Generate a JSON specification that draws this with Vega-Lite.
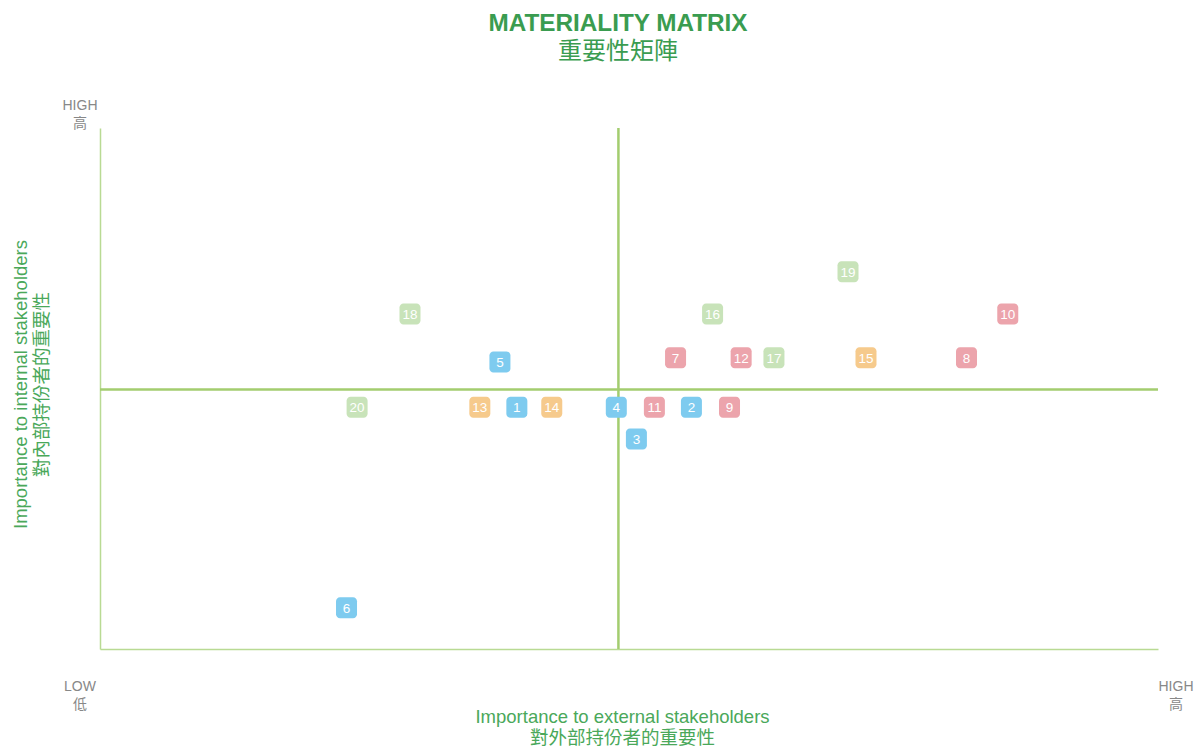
{
  "$schema": "https://vega.github.io/schema/vega-lite/v6.json",
  "width": 1058,
  "height": 521,
  "autosize": {"type": "none"},
  "padding": {"left": 100, "top": 128, "right": 44, "bottom": 98},
  "background": "white",
  "config": {
    "view": {"stroke": null},
    "font": "Liberation Sans"
  },
  "title": {
    "text": "MATERIALITY MATRIX",
    "subtitle": "重要性矩陣",
    "anchor": "middle",
    "frame": "group",
    "dx": -11,
    "offset": 35,
    "fontSize": 24.3,
    "fontWeight": "bold",
    "color": "#3a9c50",
    "font": "Liberation Sans",
    "subtitleFont": "Noto Sans CJK TC",
    "subtitleFontSize": 24,
    "subtitleColor": "#3a9c50",
    "subtitlePadding": 4
  },
  "datasets": {
    "issues": [
      {"id": "1", "ext": 39.4, "int": 46.4, "group": "blue"},
      {"id": "2", "ext": 55.9, "int": 46.4, "group": "blue"},
      {"id": "3", "ext": 50.7, "int": 40.3, "group": "blue"},
      {"id": "4", "ext": 48.8, "int": 46.4, "group": "blue"},
      {"id": "5", "ext": 37.8, "int": 55.1, "group": "blue"},
      {"id": "6", "ext": 23.3, "int": 7.9, "group": "blue"},
      {"id": "7", "ext": 54.4, "int": 55.9, "group": "red"},
      {"id": "8", "ext": 81.9, "int": 55.9, "group": "red"},
      {"id": "9", "ext": 59.5, "int": 46.4, "group": "red"},
      {"id": "10", "ext": 85.8, "int": 64.3, "group": "red"},
      {"id": "11", "ext": 52.4, "int": 46.4, "group": "red"},
      {"id": "12", "ext": 60.6, "int": 55.9, "group": "red"},
      {"id": "13", "ext": 35.9, "int": 46.4, "group": "orange"},
      {"id": "14", "ext": 42.7, "int": 46.4, "group": "orange"},
      {"id": "15", "ext": 72.4, "int": 55.9, "group": "orange"},
      {"id": "16", "ext": 57.9, "int": 64.3, "group": "green"},
      {"id": "17", "ext": 63.7, "int": 55.9, "group": "green"},
      {"id": "18", "ext": 29.3, "int": 64.3, "group": "green"},
      {"id": "19", "ext": 70.7, "int": 72.4, "group": "green"},
      {"id": "20", "ext": 24.3, "int": 46.4, "group": "green"}
    ]
  },
  "layer": [
    {
      "data": {"values": [{"x0": 0, "x1": 100, "y": 49.8}]},
      "mark": {"type": "rule", "color": "#a3cd6f", "strokeWidth": 2.5},
      "encoding": {
        "x": {"field": "x0", "type": "quantitative", "scale": {"domain": [0, 100], "nice": false, "zero": false},
          "axis": {"title": ["Importance to external stakeholders", "對外部持份者的重要性"], "labels": false, "ticks": false, "grid": false,
            "domainColor": "#b9da93", "domainWidth": 1.5, "titleColor": "#4aa85a", "titleFontSize": 18.5, "titleFontWeight": "normal",
            "titleFont": "Liberation Sans, Noto Sans CJK TC", "titlePadding": 58, "titleLineHeight": 21, "titleX": 522, "titleAlign": "center"}},
        "x2": {"field": "x1"},
        "y": {"field": "y", "type": "quantitative", "scale": {"domain": [0, 100], "nice": false, "zero": false},
          "axis": {"title": ["Importance to internal stakeholders", "對內部持份者的重要性"], "labels": false, "ticks": false, "grid": false,
            "domainColor": "#b9da93", "domainWidth": 1.5, "titleColor": "#4aa85a", "titleFontSize": 18.5, "titleFontWeight": "normal",
            "titleFont": "Liberation Sans, Noto Sans CJK TC", "titlePadding": 49, "titleLineHeight": 21, "titleY": 256, "titleAlign": "center"}}
      }
    },
    {
      "data": {"values": [{"x": 49, "y0": 0, "y1": 100}]},
      "mark": {"type": "rule", "color": "#a3cd6f", "strokeWidth": 2.5},
      "encoding": {
        "x": {"field": "x", "type": "quantitative"},
        "y": {"field": "y0", "type": "quantitative"},
        "y2": {"field": "y1"}
      }
    },
    {
      "data": {"name": "issues"},
      "mark": {"type": "point", "filled": true, "opacity": 1, "size": 441,
        "shape": "M -0.62,-1 L 0.62,-1 A 0.38,0.38 0 0 1 1,-0.62 L 1,0.62 A 0.38,0.38 0 0 1 0.62,1 L -0.62,1 A 0.38,0.38 0 0 1 -1,0.62 L -1,-0.62 A 0.38,0.38 0 0 1 -0.62,-1 Z"},
      "encoding": {
        "x": {"field": "ext", "type": "quantitative"},
        "y": {"field": "int", "type": "quantitative"},
        "color": {"field": "group", "type": "nominal", "legend": null,
          "scale": {"domain": ["blue", "red", "orange", "green"], "range": ["#7ecbef", "#eca4ac", "#f6ca8c", "#c8e3b9"]}}
      }
    },
    {
      "data": {"name": "issues"},
      "mark": {"type": "text", "color": "white", "fontSize": 13.5, "font": "Liberation Sans", "baseline": "middle", "align": "center", "dy": 1},
      "encoding": {
        "x": {"field": "ext", "type": "quantitative"},
        "y": {"field": "int", "type": "quantitative"},
        "text": {"field": "id"}
      }
    },
    {
      "data": {"values": [{"x": 0, "y": 100, "t": ["HIGH", "高"]}]},
      "mark": {"type": "text", "color": "#888888", "fontSize": 14, "font": "Liberation Sans, Noto Sans CJK TC", "align": "center", "baseline": "bottom", "dx": -20, "dy": -15, "lineHeight": 18},
      "encoding": {
        "x": {"field": "x", "type": "quantitative"},
        "y": {"field": "y", "type": "quantitative"},
        "text": {"field": "t"}
      }
    },
    {
      "data": {"values": [{"x": 0, "y": 0, "t": ["LOW", "低"]}]},
      "mark": {"type": "text", "color": "#888888", "fontSize": 14, "font": "Liberation Sans, Noto Sans CJK TC", "align": "center", "baseline": "top", "dx": -20, "dy": 31, "lineHeight": 18},
      "encoding": {
        "x": {"field": "x", "type": "quantitative"},
        "y": {"field": "y", "type": "quantitative"},
        "text": {"field": "t"}
      }
    },
    {
      "data": {"values": [{"x": 100, "y": 0, "t": ["HIGH", "高"]}]},
      "mark": {"type": "text", "color": "#888888", "fontSize": 14, "font": "Liberation Sans, Noto Sans CJK TC", "align": "center", "baseline": "top", "dx": 18, "dy": 31, "lineHeight": 18},
      "encoding": {
        "x": {"field": "x", "type": "quantitative"},
        "y": {"field": "y", "type": "quantitative"},
        "text": {"field": "t"}
      }
    }
  ]
}
